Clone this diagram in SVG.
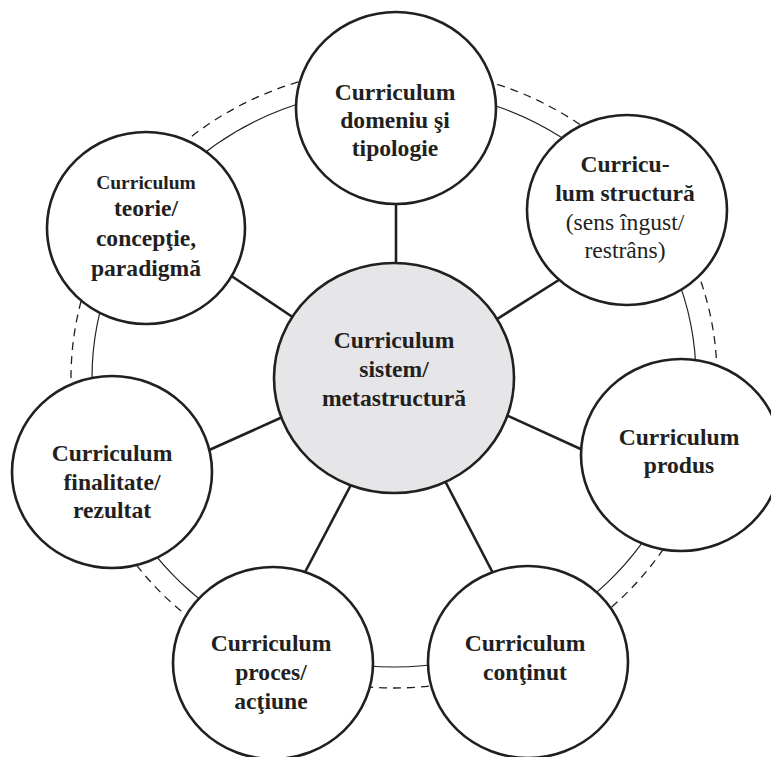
<svg xmlns="http://www.w3.org/2000/svg" width="771" height="757" viewBox="0 0 771 757">
<style>
.ring{fill:none;stroke:#231f20;stroke-width:1.2}
.dash{fill:none;stroke:#231f20;stroke-width:1.3;stroke-dasharray:8 6}
.con line{stroke:#231f20;stroke-width:2.6}
.node{fill:#fff;stroke:#231f20;stroke-width:2.6}
.hub{fill:#e6e6e8;stroke:#231f20;stroke-width:2.6}
text{font-size:23.6px;fill:#231f20;text-anchor:middle;font-weight:bold}
.r{font-weight:normal}
.s{font-size:19.5px}
</style>
<rect width="771" height="757" fill="#fff"/>
<g id="rings">
<ellipse class="dash" cx="394" cy="378" rx="323" ry="310"/>
<ellipse class="ring" cx="394" cy="378" rx="302" ry="289"/>
</g>
<g id="connectors" class="con">
<line x1="396" y1="200" x2="396" y2="268"/>
<line x1="230" y1="275" x2="297" y2="320"/>
<line x1="562" y1="278" x2="494" y2="321"/>
<line x1="207" y1="451" x2="287" y2="415"/>
<line x1="506" y1="415" x2="585" y2="451"/>
<line x1="353" y1="481" x2="303" y2="576"/>
<line x1="444" y1="479" x2="495" y2="577"/>
</g>
<g font-family="'Liberation Serif', Tinos, 'Times New Roman', 'DejaVu Serif', serif">
<g id="n-center">
<ellipse class="hub" cx="394" cy="378" rx="120" ry="115"/>
<text x="394" y="348">Curriculum</text>
<text x="394" y="377">sistem/</text>
<text x="394" y="406">metastructură</text>
</g>
<g id="n-top">
<ellipse class="node" cx="396" cy="108" rx="100" ry="96"/>
<text x="395" y="100">Curriculum</text>
<text x="395" y="128">domeniu şi</text>
<text x="395" y="156">tipologie</text>
</g>
<g id="n-teorie">
<ellipse class="node" cx="146" cy="228" rx="99" ry="96"/>
<text class="s" x="146" y="189">Curriculum</text>
<text x="146" y="216">teorie/</text>
<text x="146" y="246">concepţie,</text>
<text x="146" y="276">paradigmă</text>
</g>
<g id="n-structura">
<ellipse class="node" cx="627" cy="210" rx="100" ry="95"/>
<text x="625" y="172">Curricu-</text>
<text x="625" y="201">lum structură</text>
<text class="r" x="625" y="230">(sens îngust/</text>
<text class="r" x="625" y="258">restrâns)</text>
</g>
<g id="n-finalitate">
<ellipse class="node" cx="112" cy="472" rx="100" ry="96"/>
<text x="112" y="461">Curriculum</text>
<text x="112" y="490">finalitate/</text>
<text x="112" y="518">rezultat</text>
</g>
<g id="n-produs">
<ellipse class="node" cx="681" cy="455" rx="100" ry="96"/>
<text x="679" y="445">Curriculum</text>
<text x="679" y="473">produs</text>
</g>
<g id="n-proces">
<ellipse class="node" cx="273" cy="663" rx="100" ry="96"/>
<text x="271" y="651">Curriculum</text>
<text x="271" y="680">proces/</text>
<text x="271" y="709">acţiune</text>
</g>
<g id="n-continut">
<ellipse class="node" cx="528" cy="662" rx="100" ry="96"/>
<text x="525" y="651">Curriculum</text>
<text x="525" y="680">conţinut</text>
</g>
</g>
</svg>
